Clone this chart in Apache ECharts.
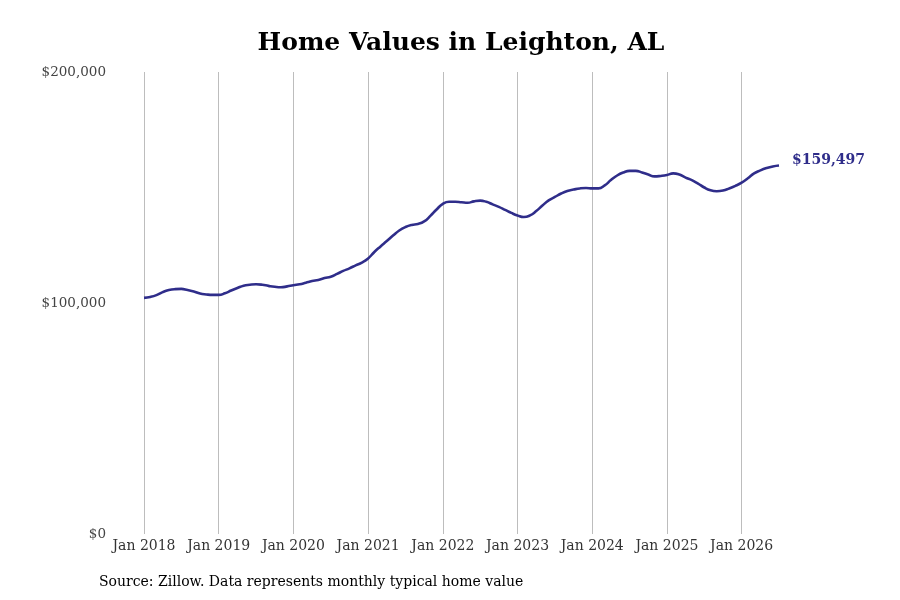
<!DOCTYPE html>
<html>
<head>
<meta charset="utf-8">
<script src="https://cdn.jsdelivr.net/npm/echarts@6/dist/echarts.min.js"></script>
<style>
  html, body { margin: 0; padding: 0; background: #fff; }
  #chart { width: 900px; height: 600px; }
</style>
</head>
<body>
<div id="chart"></div>
<script>
// monthly typical home value, Jan 2018 .. Jul 2026
var years = [2018, 2019, 2020, 2021, 2022, 2023, 2024, 2025, 2026];
var monthNames = ['Jan', 'Feb', 'Mar', 'Apr', 'May', 'Jun', 'Jul', 'Aug', 'Sep', 'Oct', 'Nov', 'Dec'];

var values2018 = [102200, 102600, 103400, 104700, 105600, 106000, 106100, 105600, 105000, 104100, 103700, 103500];
var values2019 = [103500, 104200, 105400, 106500, 107500, 107900, 108100, 107900, 107400, 107000, 106800, 107200];
var values2020 = [107700, 108100, 108800, 109500, 110000, 110800, 111400, 112600, 113900, 115000, 116300, 117500];
var values2021 = [119300, 122100, 124500, 126800, 129200, 131400, 132900, 133800, 134200, 135300, 137700, 140500];
var values2022 = [142900, 143800, 143800, 143600, 143400, 144000, 144300, 143800, 142700, 141600, 140300, 139000];
var values2023 = [137900, 137200, 137900, 139800, 142200, 144400, 145900, 147400, 148500, 149100, 149600, 149800];
var values2024 = [149600, 149600, 150900, 153200, 155200, 156500, 157200, 157200, 156500, 155600, 154800, 155000];
var values2025 = [155400, 156100, 155600, 154300, 153200, 151700, 150000, 148800, 148400, 148700, 149600, 150700];
var values2026 = [152100, 154000, 156100, 157400, 158400, 159100, 159497];

var yTicks = [0, 100000, 200000];

var values = [].concat(values2018, values2019, values2020, values2021, values2022,
                       values2023, values2024, values2025, values2026);
var months = [];
for (var i = 0; i < values.length; i++) {
    months.push(monthNames[i % 12] + ' ' + years[Math.floor(i / 12)]);
}

var chart = echarts.init(document.getElementById('chart'));
var serif = '"DejaVu Serif", serif';

chart.setOption({
    backgroundColor: '#fff',
    animation: false,
    grid: { left: 144, right: 121, top: 72, bottom: 66, containLabel: false },
    graphic: [
        {
            type: 'text', x: 461, y: 43,
            style: {
                text: 'Home Values in Leighton, AL', fill: '#000',
                font: 'bold 25px ' + serif,
                textAlign: 'center', textVerticalAlign: 'middle'
            }
        },
        {
            type: 'text', x: 99, y: 582,
            style: {
                text: 'Source: Zillow. Data represents monthly typical home value', fill: '#000',
                font: '14px ' + serif,
                textAlign: 'left', textVerticalAlign: 'middle'
            }
        }
    ],
    xAxis: {
        type: 'category',
        data: months,
        boundaryGap: false,
        axisLine: { show: false },
        axisTick: { show: false },
        axisLabel: {
            interval: function (idx) { return idx % 12 === 0; },
            color: '#333', fontFamily: serif, fontSize: 14, margin: 5
        },
        splitLine: {
            show: true,
            interval: function (idx) { return idx % 12 === 0; },
            lineStyle: { color: '#bdbdbd', width: 1 }
        }
    },
    yAxis: {
        type: 'value',
        min: yTicks[0],
        max: yTicks[yTicks.length - 1],
        interval: 100000,
        axisLine: { show: false },
        axisTick: { show: false },
        splitLine: { show: false },
        axisLabel: {
            color: '#444', fontFamily: serif, fontSize: 13.5, margin: 38,
            formatter: function (v) { return '$' + v.toLocaleString('en-US'); }
        }
    },
    series: [{
        type: 'line',
        data: values,
        smooth: true,
        symbol: 'none',
        lineStyle: { color: '#2f2d8a', width: 2.6 },
        endLabel: {
            show: true,
            distance: 13,
            offset: [0, -5],
            color: '#2f2d8a',
            fontFamily: serif,
            fontWeight: 'bold',
            fontSize: 14,
            formatter: function (p) { return '$' + p.value.toLocaleString('en-US'); }
        }
    }]
});
</script>
</body>
</html>
